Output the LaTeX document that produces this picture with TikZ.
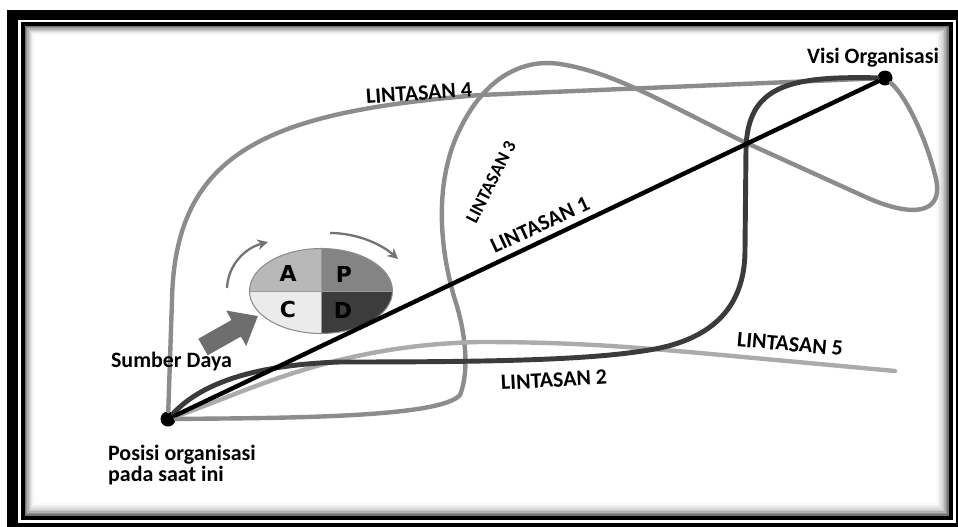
\documentclass[tikz,border=0pt]{standalone}
\usepackage{fontspec}
\setmainfont{Carlito}
\newfontfamily\pdcafont{DejaVu Sans}
\usepackage{xcolor}
\usetikzlibrary{arrows.meta,shapes.geometric}

\definecolor{jalurtua}{HTML}{3B3B3B}
\definecolor{jalursedang}{HTML}{8C8C8C}
\definecolor{jalurmuda}{HTML}{ABABAB}
\definecolor{kuA}{HTML}{B8B8B8}
\definecolor{kuP}{HTML}{848484}
\definecolor{kuC}{HTML}{EBEBEB}
\definecolor{kuD}{HTML}{3C3C3C}

\begin{document}
\begin{tikzpicture}[
  x=0.02cm, y=-0.02cm,
  lbl/.style={
    font=\fontsize{12.5}{12}\selectfont\bfseries, inner sep=1pt
  },
  titik/.style={
    circle, fill=black, minimum size=0.3cm, inner sep=0pt
  },
  jalur/.style={line width=2.5pt, line cap=round},
  siklus/.style={
    ellipse, draw=black!45, line width=0.6pt,
    minimum width=2.86cm, minimum height=1.7cm, inner sep=0pt,
    path picture={
      \fill[kuA] (path picture bounding box.north west) rectangle (path picture bounding box.center);
      \fill[kuP] (path picture bounding box.north east) rectangle (path picture bounding box.center);
      \fill[kuC] (path picture bounding box.south west) rectangle (path picture bounding box.center);
      \fill[kuD] (path picture bounding box.south east) rectangle (path picture bounding box.center);
      \draw[black!40, line width=0.5pt] (path picture bounding box.north) -- (path picture bounding box.south);
      \draw[black!40, line width=0.5pt] (path picture bounding box.west) -- (path picture bounding box.east);
    }
  },
  huruf/.style={font=\pdcafont\bfseries\fontsize{12.5}{12}\selectfont, inner sep=0pt},
  putar/.style={line width=1.3pt, black!55, -{Stealth[length=6pt, width=6pt]}},
  panahbesar/.style={line width=0.38cm, black!57, -{Triangle[width=0.78cm, length=0.5cm]}},
]
\useasboundingbox (0,0) rectangle (958,527);

% bingkai
\fill[white] (0,0) rectangle (958,527);
\fill[black] (7,10) rectangle (958,527);
\fill[white] (18,20) rectangle (956,523);
\fill[black] (21,22) rectangle (953,520);
\foreach \k/\g in {0/55,1/42,2/31,3/22,4/15,5/9,6/5,7/2,8/0}
  \fill[black!\g] (25+1.2*\k,26+1.2*\k) rectangle (949-1.6*\k,516-1.6*\k);

% titik awal dan tujuan
\node[titik] (awal) at (168,419) {};
\node[titik] (visi) at (885,78) {};

% siklus PDCA
\node[siklus] (pdca) at (321,291) {};
\node[huruf] (hA) at (288,273) {A};
\node[huruf] (hP) at (344,274) {P};
\node[huruf] (hC) at (288,310) {C};
\node[huruf] (hD) at (343,310) {D};

\coordinate (kiri1) at (227,288);
\coordinate (kiri2) at (268,242);
\coordinate (kanan1) at (330,233);
\coordinate (kanan2) at (398,259);
\draw[putar] (kiri1) .. controls (228,265) and (245,248) .. (kiri2);
\draw[putar] (kanan1) .. controls (355,233) and (380,243) .. (kanan2);

\coordinate (pangkal) at (203,347);
\coordinate (ujung) at (258,316);
\draw[panahbesar] (pangkal) -- (ujung);

% lintasan
\draw[jalur, jalursedang] (awal) -- (172,300)
  .. controls (175,150) and (270,112) .. (480,95) -- (visi);
\draw[jalur, jalursedang] (awal) .. controls (280,418) and (440,418) .. (460,395)
  .. controls (470,370) and (465,330) .. (455,300)
  .. controls (440,250) and (435,190) .. (455,140)
  .. controls (480,80) and (520,58) .. (560,64)
  .. controls (610,72) and (650,95) .. (740,140)
  -- (870,199)
  .. controls (920,220) and (945,210) .. (935,175)
  .. controls (925,135) and (905,95) .. (visi);
\coordinate (akhir5) at (895,371);
\draw[jalur, jalurmuda] (awal) .. controls (240,395) and (330,345) .. (480,342)
  .. controls (580,342) and (640,348) .. (700,353) -- (akhir5);
\draw[jalur, jalurtua, line width=2.8pt] (awal) .. controls (200,385) and (250,365) .. (340,362)
  .. controls (500,362) and (600,360) .. (660,348)
  .. controls (720,335) and (745,300) .. (745,250)
  -- (746,150)
  .. controls (747,85) and (790,76) .. (visi);
\draw[jalur, black] (awal) -- (visi);

% label
\node[lbl, rotate=4] (l4) at (419,93) {LINTASAN 4};
\node[lbl, rotate=63, font=\fontsize{10.5}{10}\selectfont\bfseries] (l3) at (491,182) {LINTASAN 3};
\node[lbl, rotate=25] (l1) at (540,225) {LINTASAN 1};
\node[lbl, rotate=3] (l2) at (554,380) {LINTASAN 2};
\node[lbl, rotate=-5] (l5) at (790,344) {LINTASAN 5};
\node[lbl] (visilbl) at (873,58) {Visi Organisasi};
\node[lbl, anchor=west] (daya) at (109,362) {Sumber Daya};
\node[lbl, anchor=north west, align=left] (posisi) at (106,443) {Posisi organisasi\\pada saat ini};

\end{tikzpicture}
\end{document}
